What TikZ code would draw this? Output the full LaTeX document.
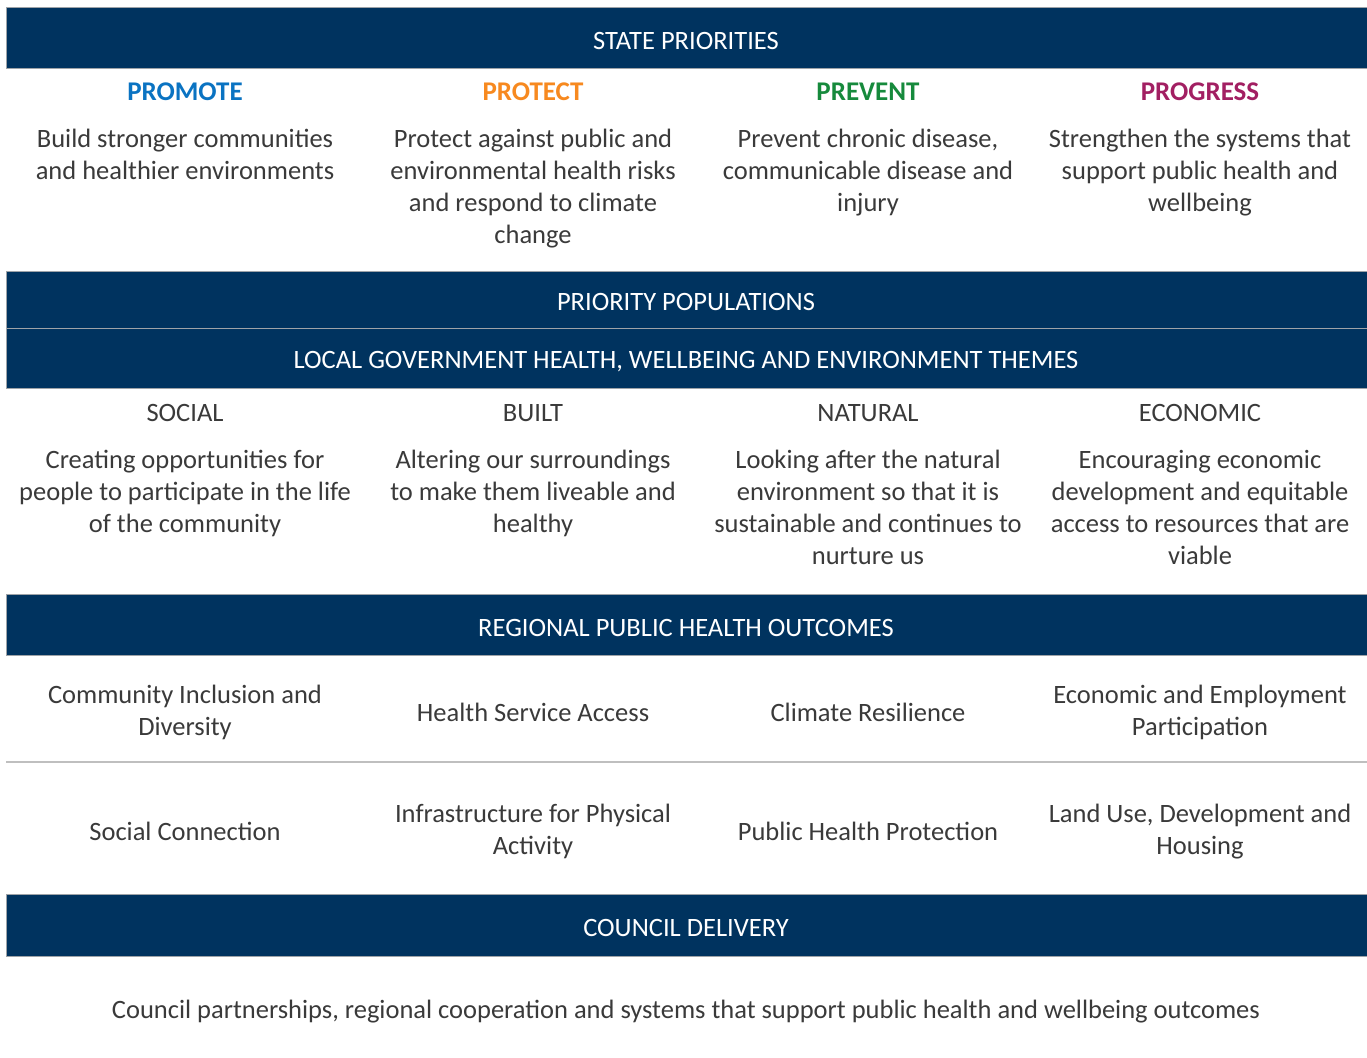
\documentclass[tikz,border=0pt]{standalone}
\usepackage{fontspec}
\setmainfont{Carlito}
\definecolor{barblue}{HTML}{00335F}
\definecolor{bargray}{HTML}{9EA3A8}
\definecolor{txt}{HTML}{3A3A3A}
\definecolor{cpromote}{HTML}{0A73C2}
\definecolor{cprotect}{HTML}{F7891F}
\definecolor{cprevent}{HTML}{168A3C}
\definecolor{cprogress}{HTML}{A21F62}
\definecolor{sep}{HTML}{BFBFBF}
\tikzset{
  bar/.style={fill=barblue, draw=bargray, line width=0.8pt},
  bartext/.style={text=white, font=\fontsize{26.5}{30}\selectfont, inner sep=0pt, anchor=center},
  head/.style={font=\fontsize{27}{30}\selectfont\bfseries, inner sep=0pt, anchor=center},
  body/.style={text=txt, font=\fontsize{26.5}{32}\selectfont, inner sep=0pt, align=center, anchor=north},
  theme/.style={text=txt, font=\fontsize{26.5}{30}\selectfont, inner sep=0pt, anchor=center},
  outc/.style={text=txt, font=\fontsize{26.5}{32}\selectfont, inner sep=0pt, align=center, anchor=center},
}
\begin{document}
\begin{tikzpicture}[x=1pt,y=-1pt]
\useasboundingbox[fill=white] (0,0) rectangle (1367,1057);
% bars
\path[bar] (6,7) rectangle (1367,68);
\node[bartext] (sp) at (686,41) {STATE PRIORITIES};
\path[bar] (6,271) rectangle (1367,388);
\draw[bargray, line width=1pt] (6,328.5) -- (1367,328.5);
\node[bartext] (pp) at (686,302) {PRIORITY POPULATIONS};
\node[bartext] (lg) at (686,361.5) {LOCAL GOVERNMENT HEALTH, WELLBEING AND ENVIRONMENT THEMES};
\path[bar] (6,594) rectangle (1367,655);
\node[bartext] (rp) at (686,627.5) {REGIONAL PUBLIC HEALTH OUTCOMES};
\path[bar] (6,894) rectangle (1367,956);
\node[bartext] (cd) at (686,928) {COUNCIL DELIVERY};
\draw[sep, line width=1.2pt] (6,762) -- (1367,762);
% state priorities
\node[head, text=cpromote] (h1) at (185,92) {PROMOTE};
\node[head, text=cprotect] (h2) at (533,92) {PROTECT};
\node[head, text=cprevent] (h3) at (868,92) {PREVENT};
\node[head, text=cprogress] (h4) at (1200,92) {PROGRESS};
\node[body] (b1) at (185,125) {\strut Build stronger communities\\and healthier environments};
\node[body] (b2) at (533,125) {\strut Protect against public and\\environmental health risks\\and respond to climate\\change};
\node[body] (b3) at (868,125) {\strut Prevent chronic disease,\\communicable disease and\\injury};
\node[body] (b4) at (1200,125) {\strut Strengthen the systems that\\support public health and\\wellbeing};
% themes
\node[theme] (t1) at (185,413) {SOCIAL};
\node[theme] (t2) at (533,413) {BUILT};
\node[theme] (t3) at (868,413) {NATURAL};
\node[theme] (t4) at (1200,413) {ECONOMIC};
\node[body] (tb1) at (185,446) {\strut Creating opportunities for\\people to participate in the life\\of the community};
\node[body] (tb2) at (533,446) {\strut Altering our surroundings\\to make them liveable and\\healthy};
\node[body] (tb3) at (868,446) {\strut Looking after the natural\\environment so that it is\\sustainable and continues to\\nurture us};
\node[body] (tb4) at (1200,446) {\strut Encouraging economic\\development and equitable\\access to resources that are\\viable};
% outcomes
\node[outc] (o1) at (185,712.5) {Community Inclusion and\\Diversity};
\node[outc] (o2) at (533,712) {Health Service Access};
\node[outc] (o3) at (868,712) {Climate Resilience};
\node[outc] (o4) at (1200,712.5) {Economic and Employment\\Participation};
\node[outc] (o5) at (185,831) {Social Connection};
\node[outc] (o6) at (533,831.5) {Infrastructure for Physical\\Activity};
\node[outc] (o7) at (868,831) {Public Health Protection};
\node[outc] (o8) at (1200,831.5) {Land Use, Development and\\Housing};
% council
\node[outc] (cb) at (686,1012) {Council partnerships, regional cooperation and systems that support public health and wellbeing outcomes};
\end{tikzpicture}
\end{document}
